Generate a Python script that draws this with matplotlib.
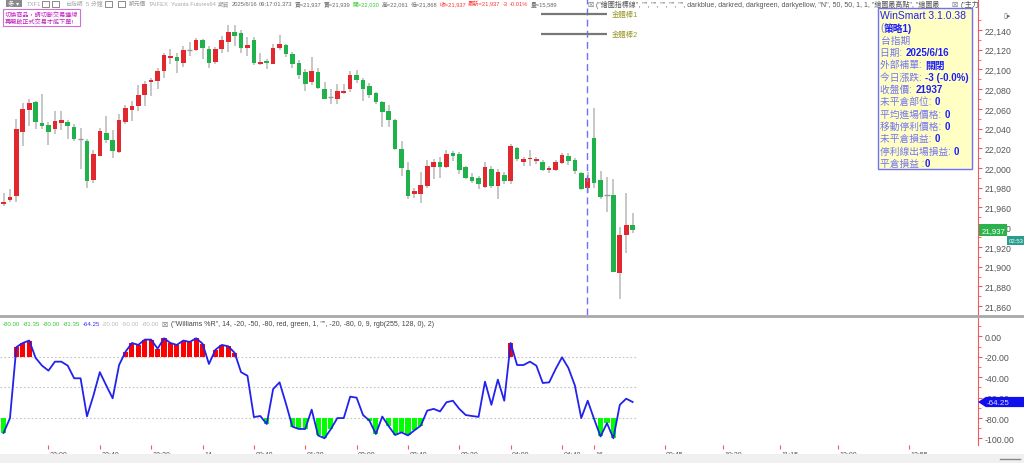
import matplotlib.pyplot as plt
import matplotlib.patches as mpatches
import matplotlib.lines as mlines
import matplotlib.transforms as mtransforms
from matplotlib.ticker import MultipleLocator, FixedLocator, FuncFormatter

plt.rcParams['font.family'] = ['Liberation Sans', 'Noto Sans CJK TC', 'DejaVu Sans']

# 台指期 5 分鐘 K 棒 (開, 高, 低, 收)
opens = [21964, 21968, 21972, 22037, 22059, 22067, 22046, 22044, 22040, 22046,
         22047, 22042, 22029, 22027, 21988, 22012, 22036, 22028, 22016, 22047,
         22059, 22063, 22074, 22087, 22088, 22098, 22112, 22113, 22107, 22120,
         22120, 22130, 22121, 22108, 22121, 22128, 22138, 22137, 22122, 22130,
         22105, 22108, 22106, 22122, 22125, 22116, 22107, 22097, 22087, 22097,
         22080, 22072, 22070, 22076, 22080, 22094, 22089, 22083, 22076, 22067,
         22058, 22049, 22019, 21998, 21974, 21974, 21982, 22001, 22006, 22001,
         22015, 22014, 22001, 21991, 21990, 21981, 21999, 21982, 21993, 21987,
         22020, 22006, 22009, 22007, 22006, 21998, 21998, 22005, 22012, 22008,
         21995, 21980, 22030, 21988, 21973, 21973, 21894, 21932, 21942]
highs = [21975, 21979, 22050, 22066, 22070, 22068, 22075, 22047, 22058, 22058,
         22049, 22045, 22041, 22029, 22018, 22041, 22053, 22039, 22055, 22064,
         22068, 22084, 22088, 22091, 22101, 22117, 22121, 22117, 22124, 22128,
         22132, 22131, 22124, 22123, 22134, 22145, 22145, 22140, 22133, 22133,
         22117, 22111, 22126, 22135, 22126, 22118, 22110, 22100, 22113, 22101,
         22087, 22080, 22085, 22085, 22098, 22099, 22091, 22086, 22077, 22068,
         22064, 22050, 22027, 22006, 21980, 21996, 22008, 22009, 22011, 22018,
         22017, 22016, 22002, 21995, 21992, 22006, 22002, 21999, 21996, 22024,
         22021, 22011, 22018, 22011, 22008, 22002, 22008, 22015, 22015, 22010,
         21996, 21996, 22061, 21997, 21991, 21989, 21940, 21975, 21954]
lows = [21962, 21966, 21966, 22022, 22043, 22040, 22040, 22023, 22035, 22039,
        22029, 22027, 21999, 21980, 21985, 22012, 22025, 22010, 22015, 22045,
        22048, 22058, 22063, 22073, 22080, 22091, 22105, 22096, 22102, 22114,
        22119, 22111, 22101, 22105, 22117, 22118, 22124, 22117, 22114, 22104,
        22104, 22100, 22105, 22120, 22113, 22101, 22090, 22078, 22084, 22080,
        22070, 22065, 22065, 22075, 22077, 22086, 22068, 22071, 22065, 22042,
        22042, 22018, 21992, 21969, 21970, 21965, 21980, 21989, 21990, 22000,
        22007, 21994, 21989, 21985, 21979, 21980, 21980, 21969, 21984, 21984,
        22007, 22002, 22002, 22004, 21997, 21995, 21997, 22004, 22003, 21994,
        21978, 21975, 21980, 21969, 21955, 21895, 21867, 21914, 21934]
closes = [21966, 21971, 22040, 22060, 22066, 22047, 22043, 22037, 22048, 22049,
          22043, 22029, 22029, 21987, 22014, 22038, 22028, 22017, 22049, 22061,
          22063, 22074, 22085, 22089, 22098, 22115, 22113, 22109, 22120, 22120,
          22130, 22122, 22107, 22121, 22130, 22138, 22134, 22122, 22125, 22107,
          22108, 22107, 22122, 22126, 22116, 22106, 22094, 22085, 22098, 22081,
          22070, 22072, 22078, 22078, 22094, 22089, 22080, 22074, 22067, 22057,
          22049, 22019, 22000, 21972, 21977, 21983, 22002, 22006, 22001, 22014,
          22012, 21998, 21990, 21987, 21984, 22001, 21982, 21996, 21987, 22022,
          22009, 22009, 22010, 22009, 21998, 22000, 22006, 22013, 22007, 21997,
          21979, 21990, 21985, 21971, 21973, 21895, 21932, 21942, 21937]

# Williams %R(14)
willr = [-94.6, -80.2, -10.4, -6.4, -4.0, -21.0, -28.6, -33.5, -24.7, -24.7,
         -28.6, -41.0, -41.0, -78.3, -58.0, -35.0, -48.0, -60.6, -28.0, -15.0,
         -6.4, -8.3, -3.1, -3.1, -12.0, -1.8, -6.4, -8.3, -4.0, -5.4,
         -1.8, -7.0, -27.0, -13.0, -8.3, -9.6, -16.0, -35.0, -38.5, -79.0,
         -78.0, -85.8, -51.5, -45.0, -66.0, -88.4, -90.7, -90.7, -71.7, -97.0,
         -99.8, -90.7, -80.0, -80.0, -59.0, -60.0, -77.0, -82.5, -95.6, -78.5,
         -88.0, -96.6, -94.0, -97.0, -92.0, -87.4, -72.7, -71.0, -73.5, -64.5,
         -63.0, -71.0, -77.0, -78.0, -78.8, -44.3, -67.0, -42.3, -63.0, -6.4,
         -28.0, -28.0, -24.7, -28.6, -45.6, -45.0, -32.0, -20.4, -31.0, -48.0,
         -80.0, -63.0, -81.0, -98.0, -85.0, -99.8, -67.0, -61.0, -64.25]

tick_pos = [7, 15, 23, 31, 39, 47, 55, 63, 71, 79, 87, 92, 103, 112, 121, 130, 141]
tick_lab = ['22:00', '22:40', '23:20', '14', '00:40', '01:20', '02:00', '02:40', '03:20',
            '04:00', '04:40', '16', '09:45', '10:30', '11:15', '12:00', '12:55']
price_ticks = list(range(21860, 22141, 20))
wr_ticks = [0, -20, -40, -60, -80, -100]

session_break = 91
bars1_level = 22156
bars2_level = 22136
last_price = 21937

info_lines = [('', 'WinSmart 3.1.0.38'), ('(', '策略1)'), ('台指期', ''),
              ('日期: ', '2025/6/16'), ('外部補單: ', '關閉'), ('今日漲跌: ', '-3 (-0.0%)'),
              ('收盤價: ', '21937'), ('未平倉部位: ', '0'), ('平均進場價格: ', '0'),
              ('移動停利價格: ', '0'), ('未平倉損益: ', '0'), ('停利線出場損益: ', '0'),
              ('平倉損益 :', '0')]

header = [('凱元價', '#999999'), ('TAIFEX', '#aaaaaa'), ('Yuanta Futures64', '#aaaaaa'),
          ('期貨', '#999999'), ('2025/6/16', '#666666'), ('09:17:01.373', '#666666'),
          ('買=21,937', '#666666'), ('賣=21,939', '#666666'), ('開=22,030', '#33cc33'),
          ('高=22,061', '#666666'), ('低=21,868', '#666666'), ('收=21,937', '#ff3333'),
          ('最新=21,937', '#ff3333'), ('-3', '#ff3333'), ('-0.01%', '#ff3333'),
          ('量=15,589', '#666666')]

wr_head = [(3, '-80.00', '#33cc33'), (23, '-81.35', '#33cc33'), (43, '-80.00', '#33cc33'),
           (63, '-81.35', '#33cc33'), (83, '-64.25', '#3333ff'), (102, '-20.00', '#bbbbbb'),
           (122, '-50.00', '#bbbbbb'), (142, '-80.00', '#bbbbbb')]

W, H = 1024, 464
RED_UP = '#e0282e'
GREEN_DN = '#1fb24a'
WICK = '#b8b8b8'
AXRED = '#f05a5a'
LBL = '#555555'


def fx(x):
    return x / W


def fy(y):
    return 1 - y / H


fig = plt.figure(figsize=(W / 100, H / 100), dpi=100)
fig.patch.set_facecolor('white')

ax = fig.add_axes([0, fy(316), fx(978), 316 / H])
ax2 = fig.add_axes([0, fy(446), fx(978), (446 - 319) / H])
x = list(range(len(closes)))
for a in (ax, ax2):
    a.set_xlim(-0.55, 151.8)
    for s in ('top', 'left', 'bottom'):
        a.spines[s].set_visible(False)
    a.spines['right'].set_color(AXRED)
    a.yaxis.tick_right()
    a.tick_params(axis='y', colors=AXRED, labelcolor=LBL, labelsize=6.3, length=3, pad=2)
    a.tick_params(axis='y', which='minor', colors=AXRED, length=2)

# K 棒
ax.set_ylim(21851, 22171.4)
ax.vlines(x, lows, highs, color=WICK, lw=1.1, zorder=1)
for i in x:
    o, c = opens[i], closes[i]
    if c == o:
        ax.hlines(c, i - 0.4, i + 0.4, color='#999999', lw=1, zorder=2)
        continue
    col = RED_UP if c > o else GREEN_DN
    ax.bar(i, max(abs(c - o), 1.5), bottom=min(o, c), width=0.72, color=col, zorder=2)
ax.yaxis.set_major_locator(FixedLocator(price_ticks))
ax.yaxis.set_minor_locator(FixedLocator(list(range(21850, 22151, 10))))
ax.yaxis.set_major_formatter(FuncFormatter(lambda v, p: f'{v:,.0f}'))
ax.set_xticks([])
ax.axvline(session_break - 0.1, color='#7070ff', lw=1, ls=(0, (5, 3)), zorder=3)
ax.hlines([bars1_level, bars2_level], 83.8, 94.0, color='#777777', lw=1.6, zorder=3)
for lv, t in ((bars1_level, '金體棒1'), (bars2_level, '金體棒2')):
    ax.text(94.8, lv, t, color='#9a9a2a', fontsize=5.3, va='center')

# 最新價與倒數標籤
ytr = ax.get_yaxis_transform()
ax.add_patch(mpatches.Rectangle((1.001, last_price - 6), 0.029, 12, transform=ytr,
                                fc='#2bb24c', ec='none', clip_on=False, zorder=6))
ax.text(1.004, last_price, f'{last_price:,}', transform=ytr, color='white', fontsize=5.6,
        va='center', ha='left', zorder=7)
ax.add_patch(mpatches.Rectangle((1.030, last_price - 15.5), 0.018, 10, transform=ytr,
                                fc='#2a9d8f', ec='none', clip_on=False, zorder=6))
ax.text(1.031, last_price - 10.5, '02:53', transform=ytr, color='white', fontsize=4.3,
        va='center', ha='left', zorder=7)

# Williams %R
ax2.set_ylim(-106.4, 18.1)
ax2.spines['bottom'].set_color(AXRED)
ax2.hlines([-20, -50, -80], -0.5, len(x) - 0.3, color='#c4c4c4', lw=0.8, ls=(0, (1.5, 2)), zorder=1)
for i, v in enumerate(willr):
    if v > -20:
        ax2.bar(i, v + 20, bottom=-20, width=0.8, color='#ff0000', zorder=2)
    elif v < -80:
        ax2.bar(i, v + 80, bottom=-80, width=0.8, color='#00ff00', zorder=2)
ax2.plot(x, willr, color='#2222ee', lw=1.3, zorder=3)
ax2.yaxis.set_major_locator(FixedLocator(wr_ticks))
ax2.yaxis.set_minor_locator(MultipleLocator(10))
ax2.yaxis.set_major_formatter(FuncFormatter(lambda v, p: f'{v:.2f}'))
ax2.set_xticks(tick_pos)
ax2.set_xticklabels(tick_lab)
ax2.tick_params(axis='x', colors=AXRED, labelcolor=LBL, labelsize=5.0, length=3, pad=1.5)
off = mtransforms.ScaledTranslation(1.5 / 100, 0, fig.dpi_scale_trans)
for lab in ax2.get_xticklabels():
    lab.set_horizontalalignment('left')
    lab.set_transform(lab.get_transform() + off)
ytr2 = ax2.get_yaxis_transform()
v = willr[-1]
ax2.add_patch(mpatches.Polygon([(1.0, v), (1.008, v + 5), (1.05, v + 5), (1.05, v - 5), (1.008, v - 5)],
                               closed=True, transform=ytr2, fc='#1010ee', ec='none',
                               clip_on=False, zorder=6))
ax2.text(1.009, v, f'{v:.2f}', transform=ytr2, color='#dcdcff', fontsize=5.8,
         va='center', ha='left', zorder=7)

# 分隔線與底部捲軸
fig.add_artist(mlines.Line2D([0, 1], [fy(317), fy(317)], color='#a8a8a8', lw=2))
fig.add_artist(mpatches.Rectangle((0, 0), 1, fy(455), color='#f0f0f0', lw=0))
fig.add_artist(mlines.Line2D([fx(1000), fx(1020)], [fy(460), fy(460)], color='#888888', lw=1))

# 頂部資訊列
fig.add_artist(mpatches.Rectangle((fx(6), fy(8)), fx(16), 7 / H, fc='#8a8a8a', ec='none'))
fig.text(fx(8.5), fy(4.5), '多 ▾', color='white', fontsize=4.5, va='center')
for bx in (45, 55, 108, 121):
    fig.add_artist(mpatches.Rectangle((fx(bx - 3), fy(8)), fx(7), 6.5 / H, fc='white', ec='#777777', lw=0.6))
for hx, t in ((27, 'TXF1'), (65, '台指期'), (86, '5 分鐘')):
    fig.text(fx(hx), fy(4.5), t, color='#aaaaaa', fontsize=4.2, va='center')
prev = fig.text(fx(129), fy(4.5), header[0][0], color=header[0][1], fontsize=4.15, va='center')
for t, c in header[1:]:
    prev = fig.add_artist(plt.Annotation(t, xy=(1, 0.5), xycoords=prev, xytext=(2.2, 0),
                                         textcoords='offset pixels', va='center', color=c, fontsize=4.15))
fig.text(fx(596), fy(4.5), '("繪圖指標線", "", "", "", "", "", darkblue, darkred, darkgreen, darkyellow, '
         '"N", 50, 50, 1, 1, "繪圖最高點", "繪圖最', color='#555555', fontsize=5, va='center')
fig.text(fx(961), fy(4.5), '("主力', color='#555555', fontsize=5, va='center')
for bx in (591, 955):
    fig.text(fx(bx), fy(4.5), '☒', color='#666666', fontsize=5, va='center', ha='center',
             family='DejaVu Sans')
fig.text(fx(1003), fy(16), '▯▸', color='#666666', fontsize=5, va='center', family='DejaVu Sans')

# 提示框
fig.text(fx(5), fy(18.5), '切換商品，請切斷交易連線\n再開啟正式交易才能下單!', color='#c020c0',
         fontsize=4.4, va='center', linespacing=1.25,
         bbox=dict(boxstyle='square,pad=0.25', fc='white', ec='#d070d0', lw=0.8))

# 策略資訊框
fig.add_artist(mpatches.Rectangle((fx(878), fy(170)), fx(94), 161 / H, fc='#ffffc4', ec='#7070ff', lw=1))
for k, (lab, val) in enumerate(info_lines):
    yy = fy(16 + k * 12.35)
    size = 7.5 if k == 0 else 7
    t = fig.text(fx(880.5), yy, lab if lab else val, color='#7474f4', fontsize=size, va='center')
    if not lab:
        t.set_color('#2020f0')
    elif val:
        fig.add_artist(plt.Annotation(val, xy=(1, 0.5), xycoords=t, va='center',
                                      color='#1c1cff', fontsize=size, fontweight='bold'))

# Williams %R 標題
for hx, t, c in wr_head:
    fig.text(fx(hx), fy(325), t, color=c, fontsize=4.4, va='center')
fig.text(fx(164), fy(325), '☒', color='#666666', fontsize=5, va='center', ha='center', family='DejaVu Sans')
fig.text(fx(171), fy(325), '("Williams %R", 14, -20, -50, -80, red, green, 1, "", -20, -80, 0, 9, '
         'rgb(255, 128, 0), 2)', color='#444444', fontsize=5, va='center')

fig.savefig('out.png', dpi=100)
